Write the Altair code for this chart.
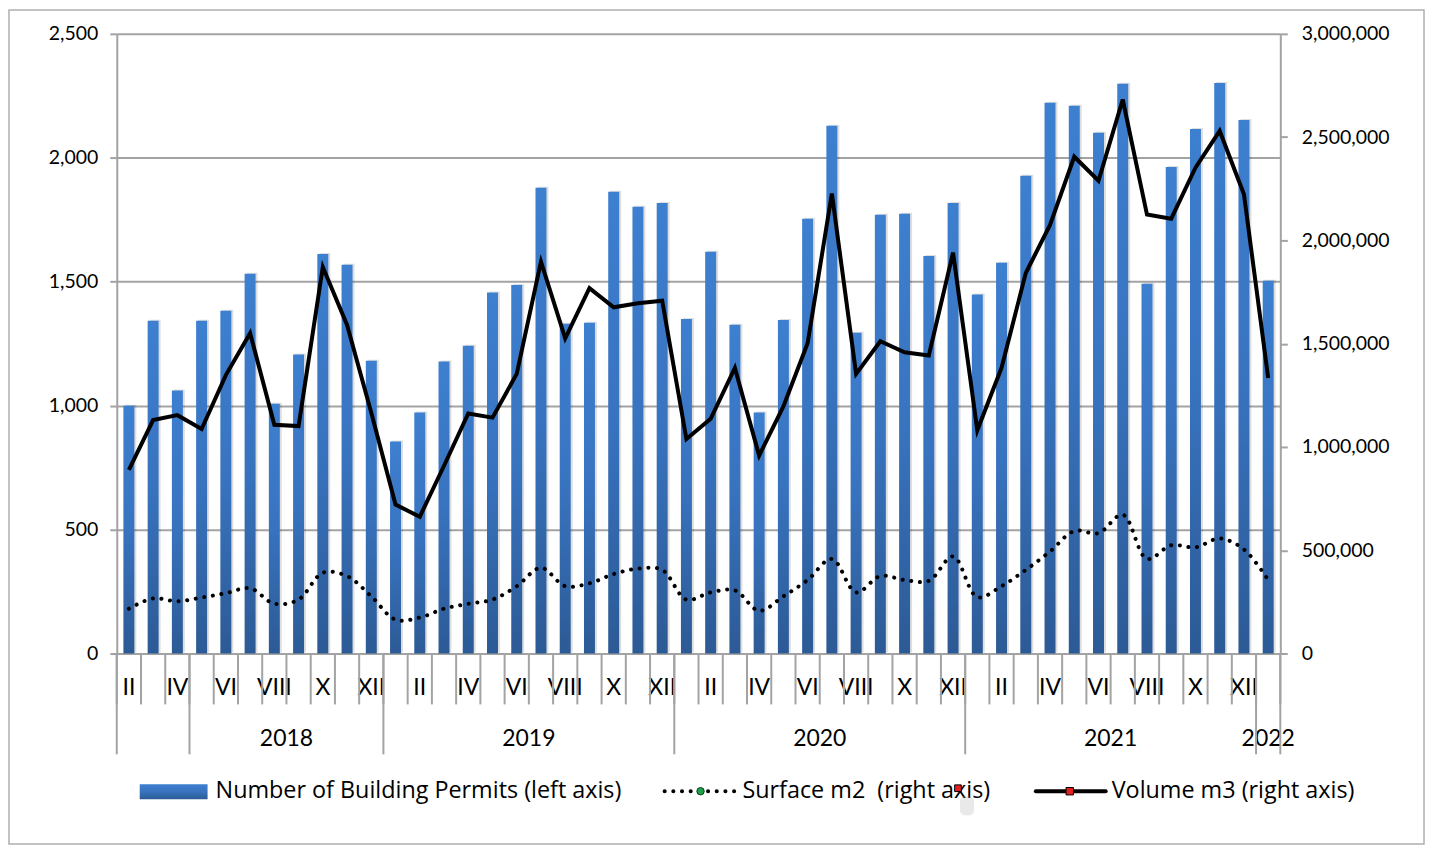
import altair as alt
import pandas as pd

# ---------------- data ----------------
month_labels = ["II", "III", "IV", "V", "VI", "VII", "VIII", "IX", "X", "XI", "XII", "I",
                "II", "III", "IV", "V", "VI", "VII", "VIII", "IX", "X", "XI", "XII", "I",
                "II", "III", "IV", "V", "VI", "VII", "VIII", "IX", "X", "XI", "XII", "I",
                "II", "III", "IV", "V", "VI", "VII", "VIII", "IX", "X", "XI", "XII", "I"]

permits = [1000, 1342, 1061, 1342, 1383, 1532, 1008, 1206, 1612, 1568, 1181, 855,
           972, 1178, 1242, 1456, 1487, 1879, 1330, 1334, 1863, 1802, 1818, 1350,
           1621, 1326, 972, 1346, 1754, 2129, 1294, 1770, 1774, 1604, 1818, 1448,
           1576, 1927, 2222, 2210, 2101, 2299, 1492, 1963, 2116, 2302, 2152, 1504]

surface = [217000, 267000, 253000, 271000, 292000, 316000, 241000, 261000, 391000, 375000, 277000, 164000,
           174000, 217000, 241000, 261000, 326000, 415000, 326000, 340000, 385000, 411000, 405000, 261000,
           296000, 306000, 207000, 277000, 356000, 458000, 296000, 375000, 356000, 352000, 470000, 273000,
           326000, 405000, 494000, 593000, 583000, 672000, 458000, 524000, 514000, 557000, 504000, 356000]

volume = [889000, 1130000, 1154000, 1087000, 1348000, 1551000, 1107000, 1101000, 1871000, 1591000, 1166000, 721000,
          662000, 909000, 1162000, 1142000, 1354000, 1897000, 1526000, 1769000, 1676000, 1696000, 1708000, 1038000,
          1136000, 1383000, 958000, 1196000, 1502000, 2227000, 1354000, 1512000, 1458000, 1443000, 1941000, 1081000,
          1383000, 1842000, 2075000, 2405000, 2289000, 2682000, 2125000, 2105000, 2352000, 2530000, 2223000, 1334000]

years = ["2018", "2019", "2020", "2021", "2022"]
year_first = [3, 11, 23, 35, 47]     # first category index of each year group
year_last = [11, 23, 35, 47, 48]     # category index after the group
group_bounds = [0, 3, 11, 23, 35, 47, 48]

legend_labels = ["Number of Building Permits (left axis)",
                 "Surface m2\u00a0 (right axis)",
                 "Volume m3 (right axis)"]

left_ticks = [0, 500, 1000, 1500, 2000, 2500]
right_ticks = [0, 500000, 1000000, 1500000, 2000000, 2500000, 3000000]

# ---------------- tables ----------------
n = len(permits)
df = pd.DataFrame({
    "idx": list(range(n)),
    "pos": [i + 0.5 for i in range(n)],
    "month": month_labels,
    "permits": permits,
    "surface": surface,
    "volume": volume,
})
df_months = df[df["idx"] % 2 == 0]
df_ticks = pd.DataFrame({"b": list(range(n + 1))})
df_ticks["long"] = df_ticks["b"].isin(group_bounds)
df_years = pd.DataFrame({"year": years,
                         "mid": [(a + b) / 2 for a, b in zip(year_first, year_last)]})
one = pd.DataFrame({"k": [0]})

GRAY = "#A3A3A3"
FONT = "Lato"
LFONT = "Open Sans"
xscale = alt.Scale(domain=[0, n], nice=False, zero=False, padding=0)


def X(field):
    return alt.X(f"{field}:Q", scale=xscale, axis=None)


bar_gradient = alt.Gradient(
    gradient="linear",
    stops=[alt.GradientStop(offset=0, color="#3D7FD0"),
           alt.GradientStop(offset=0.5, color="#3873BF"),
           alt.GradientStop(offset=1, color="#2C5A95")],
    x1=0, x2=0, y1=0, y2=1,
)

left_axis = alt.Axis(orient="left", values=left_ticks, format=",.0f", title=None,
                     grid=True, gridColor=GRAY, gridWidth=2,
                     domainColor=GRAY, domainWidth=2, tickColor=GRAY, tickWidth=2,
                     tickSize=7, labelPadding=12)
right_axis = alt.Axis(orient="right", values=right_ticks, format=",.0f", title=None,
                      grid=False, domainColor=GRAY, domainWidth=2,
                      tickColor=GRAY, tickWidth=2, tickSize=7, labelPadding=14)
yl = alt.Scale(domain=[0, 2500], nice=False)
yr = alt.Scale(domain=[0, 3000000], nice=False)

shadow = alt.Chart(df).mark_bar(size=11, xOffset=2, yOffset=-1, color="#000000", opacity=0.13).encode(
    x=X("pos"), y=alt.Y("permits:Q", scale=yl, axis=left_axis))
bars = alt.Chart(df).mark_bar(size=11, color=bar_gradient).encode(
    x=X("pos"), y=alt.Y("permits:Q", scale=yl, axis=left_axis))
left = alt.layer(shadow, bars)

surf = alt.Chart(df).mark_line(interpolate="catmull-rom", color="#000000", strokeWidth=4,
                               strokeDash=[0.1, 8.6], strokeCap="round").encode(
    x=X("pos"), y=alt.Y("surface:Q", scale=yr, axis=right_axis))
vol = alt.Chart(df).mark_line(color="#000000", strokeWidth=4, strokeJoin="miter").encode(
    x=X("pos"), y=alt.Y("volume:Q", scale=yr, axis=right_axis))
right = alt.layer(surf, vol)

# category separators under the plot
short_ticks = alt.Chart(df_ticks).mark_rule(color=GRAY, strokeWidth=2).encode(
    x=X("b"), y=alt.value(621), y2=alt.value(672))
long_ticks = alt.Chart(df_ticks).transform_filter("datum.long").mark_rule(color=GRAY, strokeWidth=2).encode(
    x=X("b"), y=alt.value(621), y2=alt.value(722))

month_text = alt.Chart(df_months).mark_text(font=FONT, fontSize=23, color="#000000",
                                            baseline="middle", align="center").encode(
    x=X("pos"), y=alt.value(656), text="month:N")
year_text = alt.Chart(df_years).mark_text(font=FONT, fontSize=23, color="#000000",
                                          baseline="middle", align="center").encode(
    x=X("mid"), y=alt.value(707), text="year:N")

# ---------------- legend ----------------
LY = 759
leg_bar = alt.Chart(one).mark_rect(color=bar_gradient).encode(
    x=alt.value(23), x2=alt.value(91), y=alt.value(752), y2=alt.value(767))
leg_surf = alt.Chart(one).mark_rule(color="#000000", strokeWidth=4, strokeDash=[0.1, 8.6],
                                    strokeCap="round").encode(
    x=alt.value(549), x2=alt.value(625), y=alt.value(LY))
leg_surf_pt = alt.Chart(one).mark_point(shape="circle", filled=True, size=55, fill="#1FA04A",
                                        stroke="#0E3B1C", strokeWidth=1, opacity=1).encode(
    x=alt.value(585), y=alt.value(LY))
leg_vol = alt.Chart(one).mark_rule(color="#000000", strokeWidth=4, strokeCap="round").encode(
    x=alt.value(921), x2=alt.value(991), y=alt.value(LY))
leg_vol_pt = alt.Chart(one).mark_point(shape="square", filled=True, size=55, fill="#E3201F",
                                       stroke="#000000", strokeWidth=1, opacity=1).encode(
    x=alt.value(955), y=alt.value(LY))
leg_stray_shadow = alt.Chart(one).mark_rect(color="#9A9A9A", opacity=0.22, cornerRadius=5).encode(
    x=alt.value(845), x2=alt.value(859), y=alt.value(764), y2=alt.value(783))
leg_stray = alt.Chart(one).mark_point(shape="square", filled=True, size=45, fill="#E3201F",
                                      stroke="#000000", strokeWidth=1, opacity=1).encode(
    x=alt.value(843), y=alt.value(756))

leg_texts = []
for label, xpos in zip(legend_labels, [99, 627, 997]):
    leg_texts.append(
        alt.Chart(pd.DataFrame({"t": [label]})).mark_text(
            font=LFONT, fontSize=23.4, color="#000000", align="left", baseline="middle").encode(
            x=alt.value(xpos), y=alt.value(LY), text="t:N"))

border = alt.Chart(one).mark_rect(fill="transparent", stroke="#AFAFAF", strokeWidth=1.5).encode(
    x=alt.value(-108), x2=alt.value(1310), y=alt.value(-24), y2=alt.value(812))

chart = alt.layer(
    border, left, right, month_text, year_text, short_ticks, long_ticks,
    leg_bar, leg_surf, leg_surf_pt, leg_vol, leg_vol_pt, *leg_texts,
    leg_stray_shadow, leg_stray,
).resolve_scale(y="independent").properties(
    width=1166, height=621,
    padding={"left": 109, "top": 25, "right": 146, "bottom": 193},
    autosize=alt.AutoSizeParams(type="none"),
    background="white",
).configure_view(stroke=None).configure_axis(
    labelFont=FONT, labelFontSize=19.5, labelColor="#000000")

chart.save("out.html", embed_options={"renderer": "svg", "actions": False})
